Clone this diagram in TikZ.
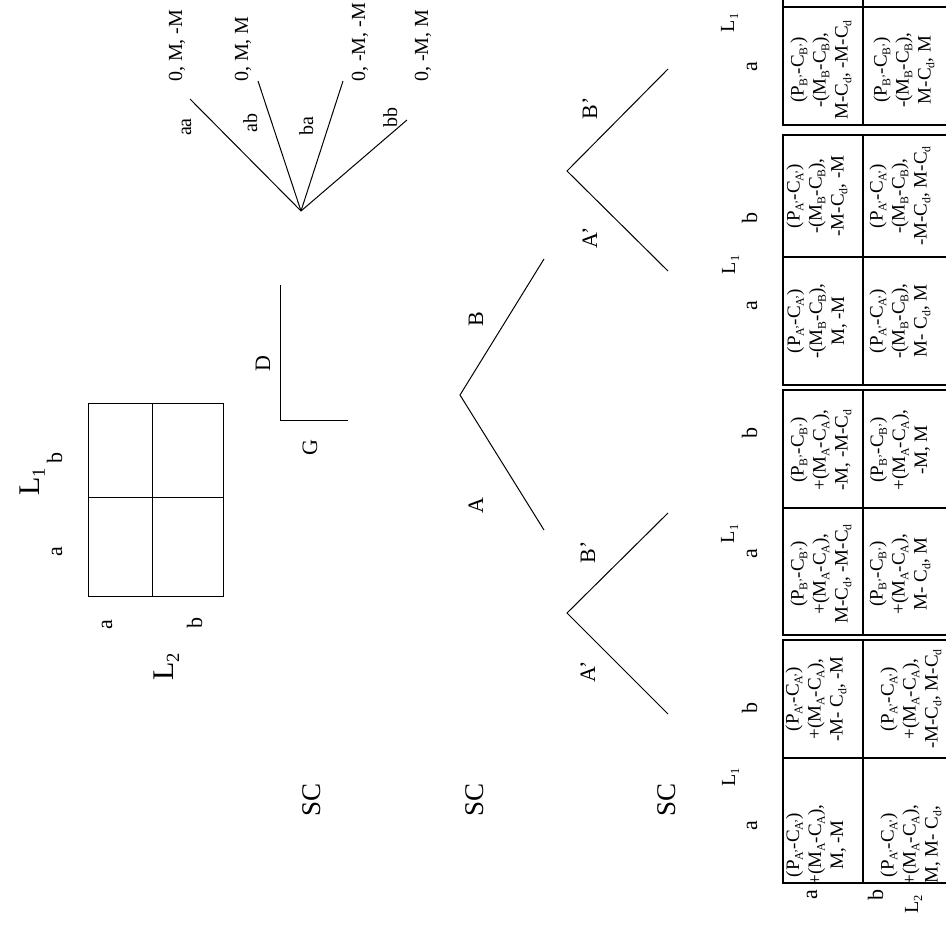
\documentclass[tikz,border=0pt]{standalone}
\usepackage{fontspec}
\usepackage{graphicx}
\setmainfont{Liberation Serif}
\newcommand\sbx[1]{\raisebox{-0.2em}{\scalebox{0.62}{#1}}}
\tikzset{
  ln/.style={line width=1pt},
  bd/.style={line width=1.6pt},
  inl/.style={line width=1.1pt},
  lbl/.style={rotate=90, inner sep=0pt, anchor=base},
  fbig/.style={font=\fontsize{30}{30}\selectfont},
  fmid/.style={font=\fontsize{22}{22}\selectfont},
  fsc/.style={font=\fontsize{27}{27}\selectfont},
  fsm/.style={font=\fontsize{20}{20}\selectfont},
  cell/.style={rotate=90, inner sep=0pt, anchor=center, align=center, font=\fontsize{19}{22}\selectfont}
}
\begin{document}
\begin{tikzpicture}[x=1pt,y=-1pt]
\path[use as bounding box, clip] (0,0) rectangle (946,927);
\fill[white] (0,0) rectangle (946,927);

% ---------- normal form game (top left) ----------
\node[lbl,fbig] (L1big) at (39,482) {L\sbx{1}};
\node[lbl,fmid] (ma) at (62,552) {a};
\node[lbl,fmid] (mb) at (62,458) {b};
\draw[ln] (88,403) rectangle (223,596);
\draw[ln] (152,403) -- (152,596);
\draw[ln] (88,497) -- (223,497);
\node[lbl,fmid] (ra) at (112,625) {a};
\node[lbl,fmid] (rb) at (202,623) {b};
\node[lbl,fbig] (L2big) at (173,667) {L\sbx{2}};

% ---------- D / G ----------
\coordinate (dtop) at (280,285);
\coordinate (dcorner) at (280,420);
\coordinate (dright) at (348,420);
\draw[ln] (dtop) -- (dcorner) -- (dright);
\node[lbl,fmid] (D) at (270,364) {D};
\node[lbl,fmid] (G) at (317,448) {G};

% ---------- fan tree ----------
\coordinate (root) at (301,211);
\coordinate (eaa) at (190,99);
\coordinate (eab) at (258,81);
\coordinate (eba) at (343,81);
\coordinate (ebb) at (407,120);
\draw[ln] (root) -- (eaa);
\draw[ln] (root) -- (eab);
\draw[ln] (root) -- (eba);
\draw[ln] (root) -- (ebb);
\node[lbl,fsm] (laa) at (191,127) {aa};
\node[lbl,fsm] (lab) at (257,123) {ab};
\node[lbl,fsm] (lba) at (313,126) {ba};
\node[lbl,fsm] (lbb) at (397,117) {bb};
\node[lbl,fsm,anchor=base west] (paa) at (182,82) {0, M, -M};
\node[lbl,fsm,anchor=base west] (pab) at (248,82) {0, M, M};
\node[lbl,fsm,anchor=base west] (pba) at (365,82) {0, -M, -M};
\node[lbl,fsm,anchor=base west] (pbb) at (428,82) {0, -M, M};

% ---------- SC labels ----------
\node[lbl,fsc] (sc1) at (320,800) {SC};
\node[lbl,fsc] (sc2) at (483,800) {SC};
\node[lbl,fsc] (sc3) at (675,800) {SC};

% ---------- A / B tree ----------
\coordinate (ab0) at (460,395);
\coordinate (abA) at (544,530);
\coordinate (abB) at (544,259);
\draw[ln] (abA) -- (ab0) -- (abB);
\node[lbl,fmid] (tA) at (483,506) {A};
\node[lbl,fmid] (tB) at (483,319) {B};

% ---------- lower A'/B' tree ----------
\coordinate (s10) at (567,613);
\coordinate (s1A) at (668,714);
\coordinate (s1B) at (668,513);
\draw[ln] (s1A) -- (s10) -- (s1B);
\node[lbl,fmid] (s1lA) at (595,672) {A’};
\node[lbl,fmid] (s1lB) at (595,552) {B’};

% ---------- upper A'/B' tree ----------
\coordinate (s20) at (567,171);
\coordinate (s2A) at (668,271);
\coordinate (s2B) at (668,69);
\draw[ln] (s2A) -- (s20) -- (s2B);
\node[lbl,fmid] (s2lA) at (597,238) {A’};
\node[lbl,fmid] (s2lB) at (597,108) {B’};

% ---------- tables ----------
% table 1
\draw[bd] (783,640) rectangle (960,883);
\draw[inl] (863,640) -- (863,883);
\draw[inl] (783,758) -- (960,758);
\node[lbl,fmid] (t1a) at (757,826) {a};
\node[lbl,fsm] (t1L) at (735,777) {L\sbx{1}};
\node[lbl,fmid] (t1b) at (757,708) {b};
\node[lbl,fmid] (t1ra) at (817,895) {a};
\node[lbl,fmid] (t1rb) at (883,895) {b};
\node[lbl,fsm] (t1L2) at (918,904) {L\sbx{2}};
\node[cell] (c1aa) at (816,845) {(P\sbx{A’}-C\sbx{A’})\\+(M\sbx{A}-C\sbx{A}),\\M, -M};
\node[cell] (c1ab) at (816,699) {(P\sbx{A’}-C\sbx{A’})\\+(M\sbx{A}-C\sbx{A}),\\-M- C\sbx{d}, -M};
\node[cell] (c1ba) at (911,845) {(P\sbx{A’}-C\sbx{A’})\\+(M\sbx{A}-C\sbx{A}),\\M, M- C\sbx{d},};
\node[cell] (c1bb) at (911,699) {(P\sbx{A’}-C\sbx{A’})\\+(M\sbx{A}-C\sbx{A}),\\-M-C\sbx{d}, M-C\sbx{d}};

% table 2
\draw[bd] (783,390) rectangle (960,635);
\draw[inl] (863,390) -- (863,635);
\draw[inl] (783,508) -- (960,508);
\node[lbl,fmid] (t2a) at (757,554) {a};
\node[lbl,fsm] (t2L) at (734,534) {L\sbx{1}};
\node[lbl,fmid] (t2b) at (757,433) {b};
\node[cell] (c2aa) at (821,574) {(P\sbx{B’}-C\sbx{B’})\\+(M\sbx{A}-C\sbx{A}),\\M-C\sbx{d}, -M-C\sbx{d}};
\node[cell] (c2ab) at (821,450) {(P\sbx{B’}-C\sbx{B’})\\+(M\sbx{A}-C\sbx{A}),\\-M, -M-C\sbx{d}};
\node[cell] (c2ba) at (900,574) {(P\sbx{B’}-C\sbx{B’})\\+(M\sbx{A}-C\sbx{A}),\\M- C\sbx{d}, M};
\node[cell] (c2bb) at (900,450) {(P\sbx{B’}-C\sbx{B’})\\+(M\sbx{A}-C\sbx{A}),\\-M, M};

% table 3
\draw[bd] (783,135) rectangle (960,385);
\draw[inl] (863,135) -- (863,385);
\draw[inl] (783,257) -- (960,257);
\node[lbl,fmid] (t3a) at (757,306) {a};
\node[lbl,fsm] (t3L) at (735,265) {L\sbx{1}};
\node[lbl,fmid] (t3b) at (757,218) {b};
\node[cell] (c3aa) at (817,321) {(P\sbx{A’}-C\sbx{A’})\\-(M\sbx{B}-C\sbx{B}),\\M, -M};
\node[cell] (c3ab) at (817,196) {(P\sbx{A’}-C\sbx{A’})\\-(M\sbx{B}-C\sbx{B}),\\-M-C\sbx{d}, -M};
\node[cell] (c3ba) at (900,321) {(P\sbx{A’}-C\sbx{A’})\\-(M\sbx{B}-C\sbx{B}),\\M- C\sbx{d}, M};
\node[cell] (c3bb) at (900,196) {(P\sbx{A’}-C\sbx{A’})\\-(M\sbx{B}-C\sbx{B}),\\-M-C\sbx{d}, M-C\sbx{d}};

% table 4
\draw[bd] (783,-30) rectangle (960,125);
\draw[inl] (863,-30) -- (863,125);
\draw[inl] (783,7) -- (960,7);
\node[lbl,fmid] (t4a) at (757,67) {a};
\node[lbl,fsm] (t4L) at (734,23) {L\sbx{1}};
\node[cell] (c4aa) at (821,70) {(P\sbx{B’}-C\sbx{B’})\\-(M\sbx{B}-C\sbx{B}),\\M-C\sbx{d}, -M-C\sbx{d}};
\node[cell] (c4ba) at (904,70) {(P\sbx{B’}-C\sbx{B’})\\-(M\sbx{B}-C\sbx{B}),\\M-C\sbx{d}, M};
\end{tikzpicture}
\end{document}
